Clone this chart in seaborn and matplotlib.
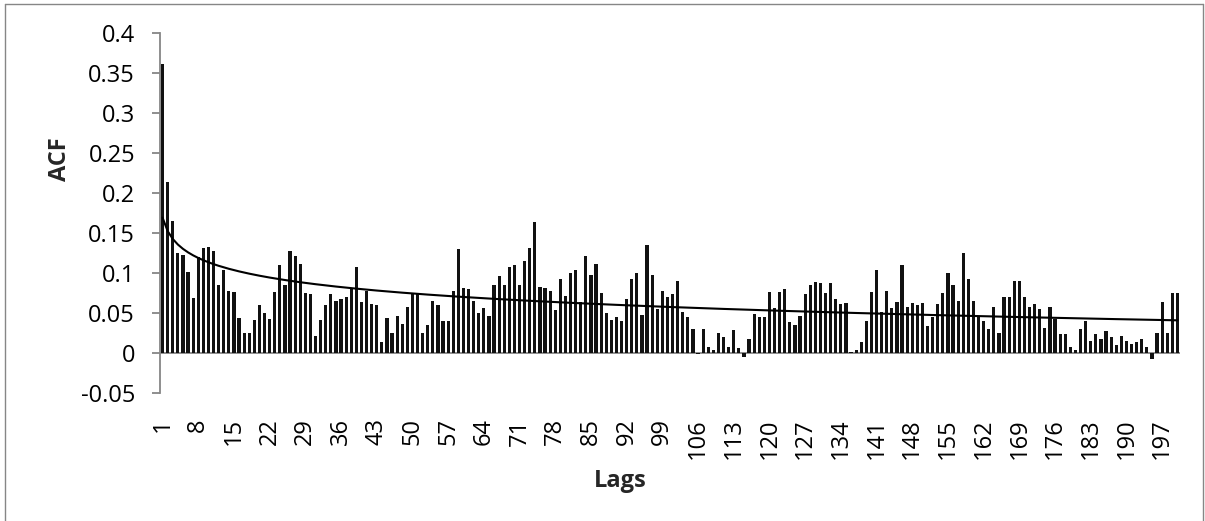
import numpy as np
import pandas as pd
import matplotlib
matplotlib.use("Agg")
import matplotlib.pyplot as plt
from matplotlib.lines import Line2D
import seaborn as sns

# ---------------- data ----------------
lags = list(range(1, 201))
acf = [
    0.362, 0.214, 0.165, 0.126, 0.123, 0.102, 0.069, 0.121, 0.132, 0.133,
    0.128, 0.086, 0.104, 0.078, 0.077, 0.044, 0.026, 0.026, 0.042, 0.060,
    0.051, 0.043, 0.077, 0.111, 0.085, 0.128, 0.122, 0.112, 0.075, 0.074,
    0.022, 0.042, 0.060, 0.074, 0.065, 0.068, 0.071, 0.081, 0.108, 0.064,
    0.078, 0.062, 0.060, 0.014, 0.044, 0.025, 0.047, 0.037, 0.058, 0.075,
    0.074, 0.026, 0.036, 0.065, 0.060, 0.040, 0.040, 0.078, 0.130, 0.082,
    0.080, 0.066, 0.050, 0.057, 0.047, 0.086, 0.097, 0.085, 0.108, 0.110,
    0.086, 0.116, 0.132, 0.164, 0.083, 0.082, 0.078, 0.054, 0.093, 0.072,
    0.101, 0.104, 0.064, 0.122, 0.098, 0.112, 0.076, 0.050, 0.042, 0.045,
    0.041, 0.068, 0.093, 0.101, 0.048, 0.135, 0.098, 0.055, 0.078, 0.070,
    0.074, 0.091, 0.052, 0.045, 0.031, -0.001, 0.030, 0.008, 0.004, 0.025,
    0.020, 0.008, 0.029, 0.007, -0.005, 0.018, 0.049, 0.045, 0.045, 0.077,
    0.057, 0.077, 0.081, 0.039, 0.035, 0.047, 0.074, 0.085, 0.089, 0.088,
    0.076, 0.088, 0.068, 0.062, 0.063, 0.002, 0.004, 0.014, 0.040, 0.077,
    0.104, 0.052, 0.078, 0.057, 0.064, 0.110, 0.058, 0.063, 0.061, 0.063,
    0.034, 0.046, 0.062, 0.075, 0.100, 0.086, 0.066, 0.125, 0.093, 0.066,
    0.046, 0.040, 0.030, 0.058, 0.025, 0.070, 0.070, 0.090, 0.090, 0.070,
    0.058, 0.062, 0.056, 0.032, 0.058, 0.043, 0.024, 0.024, 0.008, 0.004,
    0.030, 0.040, 0.015, 0.024, 0.018, 0.028, 0.021, 0.011, 0.022, 0.015,
    0.012, 0.014, 0.018, 0.008, -0.007, 0.026, 0.064, 0.025, 0.075, 0.075,
]
x_tick_lags = list(range(1, 201, 7))
x_tick_labels = [str(v) for v in x_tick_lags]
y_ticks = [-0.05, 0.0, 0.05, 0.1, 0.15, 0.2, 0.25, 0.3, 0.35, 0.4]
y_tick_labels = ["-0.05", "0", "0.05", "0.1", "0.15", "0.2", "0.25", "0.3", "0.35", "0.4"]
x_title = "Lags"
y_title = "ACF"

# ---------------- style ----------------
sns.set_style("white")
plt.rcParams["font.family"] = ["Open Sans", "DejaVu Sans"]
AXIS_GRAY = "#868686"
FS = 17

W, H = 1205, 521
fig = plt.figure(figsize=(W / 100, H / 100), dpi=100)
ax = fig.add_axes([160 / W, (H - 393.3) / H, 1020 / W, 360 / H])

df = pd.DataFrame({"lag": lags, "acf": acf})
sns.barplot(data=df, x="lag", y="acf", native_scale=True, width=0.64,
            color="#111111", saturation=1, linewidth=0, ax=ax, zorder=2)

# logarithmic trend line fitted to the data
coef = np.polyfit(np.log(lags), acf, 1)
trend = np.polyval(coef, np.log(lags))
ax.plot(lags, trend, color="black", lw=1.5, zorder=4)

ax.axhline(0, color=AXIS_GRAY, lw=1.3, zorder=1)

ax.set_xlim(0.5, 200.5)
ax.set_ylim(-0.05, 0.4)
ax.set_yticks(y_ticks, y_tick_labels)
ax.set_xticks(x_tick_lags, x_tick_labels)

for s in ["top", "right", "bottom"]:
    ax.spines[s].set_visible(False)
ax.spines["left"].set_color(AXIS_GRAY)
ax.spines["left"].set_linewidth(1.3)

ax.tick_params(axis="y", direction="out", length=6, width=1.3, color=AXIS_GRAY,
               pad=12, labelsize=FS, labelcolor="black", left=True)
ax.tick_params(axis="x", length=0, pad=18, labelsize=FS, labelrotation=90,
               labelcolor="black", bottom=True)

ax.set_xlabel(x_title, fontsize=FS, fontweight="bold")
ax.xaxis.set_label_coords(0.451, -0.21)
ax.set_ylabel(y_title, fontsize=FS, fontweight="bold", va="center")
ax.yaxis.set_label_coords(-0.098, 0.651)
ax.grid(False)

# chart-area border
bx0, bx1, by0 = 5 / W, 1203 / W, 1 - 4 / H
for xs, ys in [([bx0, bx0], [0, by0]), ([bx0, bx1], [by0, by0]), ([bx1, bx1], [0, by0])]:
    fig.add_artist(Line2D(xs, ys, transform=fig.transFigure, color=AXIS_GRAY, lw=1.0))

fig.savefig("out.png", dpi=100)
